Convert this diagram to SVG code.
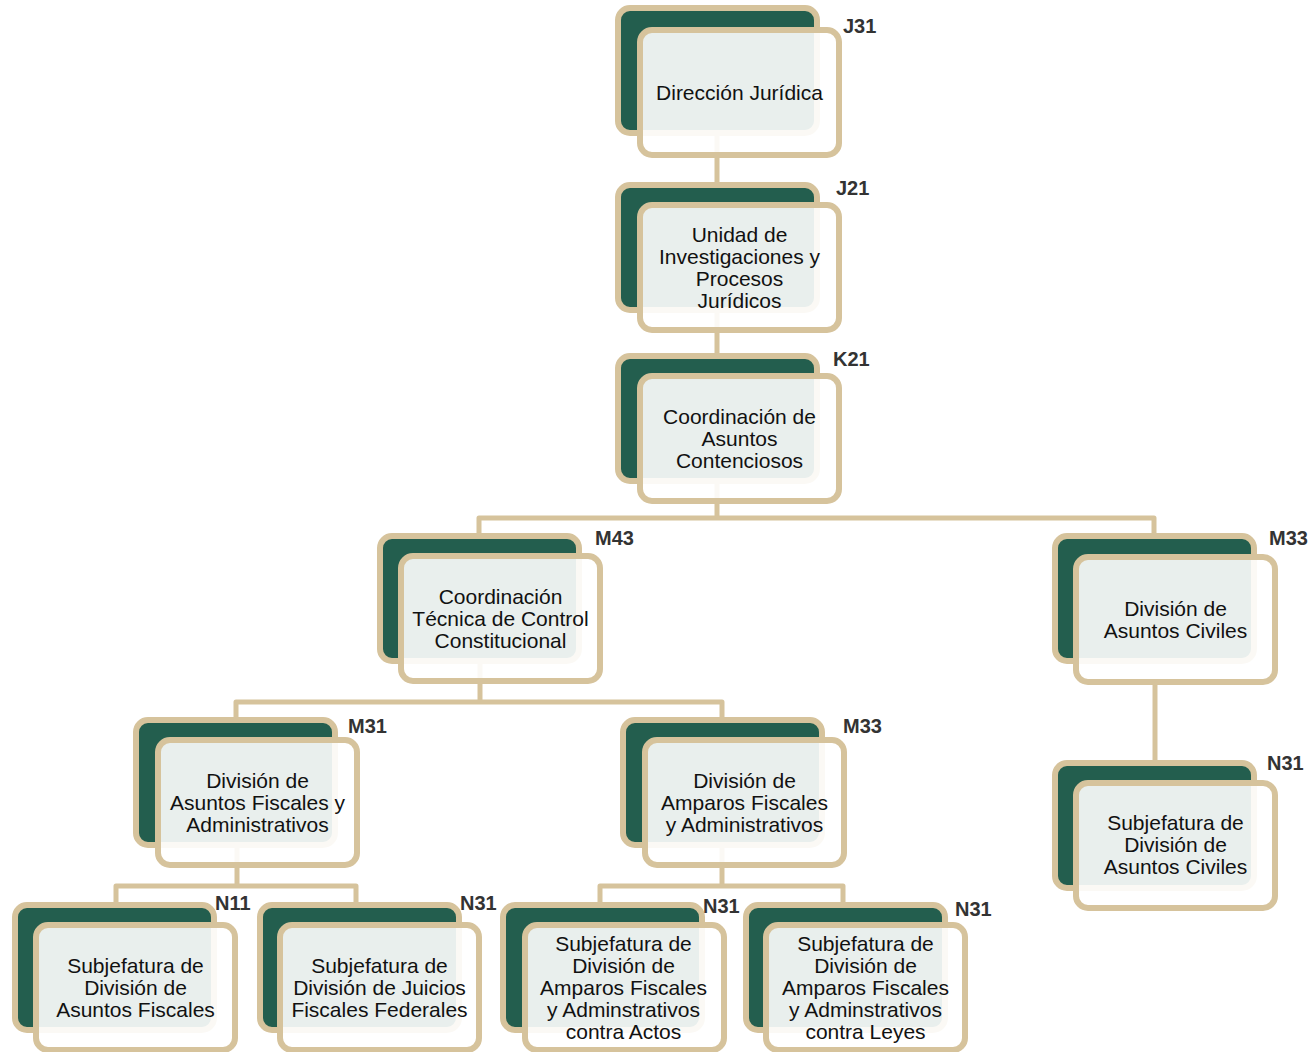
<svg xmlns="http://www.w3.org/2000/svg" width="1315" height="1052" viewBox="0 0 1315 1052">
  <style>
    .back { fill: #235E4E; stroke: #D6C39C; stroke-width: 6; }
    .front { fill: #FFFFFF; fill-opacity: 0.9; stroke: #D6C39C; stroke-width: 6; }
    .conn { fill: none; stroke: #D6C39C; stroke-width: 5; stroke-linejoin: round; }
    .lbl { font-family: "Liberation Sans", Arial, sans-serif; font-size: 21px; fill: #111111; text-anchor: middle; }
    .code { font-family: "Liberation Sans", Arial, sans-serif; font-size: 20px; font-weight: bold; fill: #333333; }
  </style>
  <rect width="1315" height="1052" fill="#FFFFFF"/>
  <g id="connectors">
    <path class="conn" d="M717,130 V518"/>
    <path class="conn" d="M479,540 V518 H1154 V540"/>
    <path class="conn" d="M480,660 V702"/>
    <path class="conn" d="M236,724 V702 H722 V724"/>
    <path class="conn" d="M237,843 V886"/>
    <path class="conn" d="M116,908 V886 H356 V908"/>
    <path class="conn" d="M722,843 V886"/>
    <path class="conn" d="M600,908 V886 H843 V908"/>
    <path class="conn" d="M1155,680 V766"/>
  </g>
  <g id="J31">
    <rect class="back" x="618" y="8" width="199" height="125" rx="12"/>
    <rect class="front" x="640" y="30" width="199" height="125" rx="12"/>
    <text class="lbl" x="739.5" y="100">Dirección Jurídica</text>
    <text class="code" x="843" y="33">J31</text>
  </g>
  <g id="J21">
    <rect class="back" x="618" y="185" width="199" height="125" rx="12"/>
    <rect class="front" x="640" y="205" width="199" height="125" rx="12"/>
    <text class="lbl" x="739.5" y="242">Unidad de</text>
    <text class="lbl" x="739.5" y="264">Investigaciones y</text>
    <text class="lbl" x="739.5" y="286">Procesos</text>
    <text class="lbl" x="739.5" y="308">Jurídicos</text>
    <text class="code" x="836" y="195">J21</text>
  </g>
  <g id="K21">
    <rect class="back" x="618" y="356" width="199" height="125" rx="12"/>
    <rect class="front" x="640" y="376" width="199" height="125" rx="12"/>
    <text class="lbl" x="739.5" y="424">Coordinación de</text>
    <text class="lbl" x="739.5" y="446">Asuntos</text>
    <text class="lbl" x="739.5" y="468">Contenciosos</text>
    <text class="code" x="833" y="366">K21</text>
  </g>
  <g id="M43">
    <rect class="back" x="380" y="536" width="199" height="125" rx="12"/>
    <rect class="front" x="401" y="556" width="199" height="125" rx="12"/>
    <text class="lbl" x="500.5" y="604">Coordinación</text>
    <text class="lbl" x="500.5" y="626">Técnica de Control</text>
    <text class="lbl" x="500.5" y="648">Constitucional</text>
    <text class="code" x="595" y="545">M43</text>
  </g>
  <g id="M33-civiles">
    <rect class="back" x="1055" y="536" width="199" height="125" rx="12"/>
    <rect class="front" x="1076" y="557" width="199" height="125" rx="12"/>
    <text class="lbl" x="1175.5" y="616">División de</text>
    <text class="lbl" x="1175.5" y="638">Asuntos Civiles</text>
    <text class="code" x="1269" y="545">M33</text>
  </g>
  <g id="M31">
    <rect class="back" x="136" y="720" width="199" height="125" rx="12"/>
    <rect class="front" x="158" y="740" width="199" height="125" rx="12"/>
    <text class="lbl" x="257.5" y="788">División de</text>
    <text class="lbl" x="257.5" y="810">Asuntos Fiscales y</text>
    <text class="lbl" x="257.5" y="832">Administrativos</text>
    <text class="code" x="348" y="733">M31</text>
  </g>
  <g id="M33-amparos">
    <rect class="back" x="623" y="720" width="199" height="125" rx="12"/>
    <rect class="front" x="645" y="740" width="199" height="125" rx="12"/>
    <text class="lbl" x="744.5" y="788">División de</text>
    <text class="lbl" x="744.5" y="810">Amparos Fiscales</text>
    <text class="lbl" x="744.5" y="832">y Administrativos</text>
    <text class="code" x="843" y="733">M33</text>
  </g>
  <g id="N31-civiles">
    <rect class="back" x="1055" y="763" width="199" height="125" rx="12"/>
    <rect class="front" x="1076" y="783" width="199" height="125" rx="12"/>
    <text class="lbl" x="1175.5" y="830">Subjefatura de</text>
    <text class="lbl" x="1175.5" y="852">División de</text>
    <text class="lbl" x="1175.5" y="874">Asuntos Civiles</text>
    <text class="code" x="1267" y="770">N31</text>
  </g>
  <g id="N11">
    <rect class="back" x="15" y="905" width="199" height="125" rx="12"/>
    <rect class="front" x="36" y="925" width="199" height="125" rx="12"/>
    <text class="lbl" x="135.5" y="973">Subjefatura de</text>
    <text class="lbl" x="135.5" y="995">División de</text>
    <text class="lbl" x="135.5" y="1017">Asuntos Fiscales</text>
    <text class="code" x="215" y="910">N11</text>
  </g>
  <g id="N31-juicios">
    <rect class="back" x="260" y="905" width="199" height="125" rx="12"/>
    <rect class="front" x="280" y="925" width="199" height="125" rx="12"/>
    <text class="lbl" x="379.5" y="973">Subjefatura de</text>
    <text class="lbl" x="379.5" y="995">División de Juicios</text>
    <text class="lbl" x="379.5" y="1017">Fiscales Federales</text>
    <text class="code" x="460" y="910">N31</text>
  </g>
  <g id="N31-actos">
    <rect class="back" x="503" y="905" width="199" height="125" rx="12"/>
    <rect class="front" x="525" y="925" width="199" height="125" rx="12"/>
    <text class="lbl" x="623.5" y="951">Subjefatura de</text>
    <text class="lbl" x="623.5" y="973">División de</text>
    <text class="lbl" x="623.5" y="995">Amparos Fiscales</text>
    <text class="lbl" x="623.5" y="1017">y Adminstrativos</text>
    <text class="lbl" x="623.5" y="1039">contra Actos</text>
    <text class="code" x="703" y="913">N31</text>
  </g>
  <g id="N31-leyes">
    <rect class="back" x="746" y="905" width="199" height="125" rx="12"/>
    <rect class="front" x="766" y="925" width="199" height="125" rx="12"/>
    <text class="lbl" x="865.5" y="951">Subjefatura de</text>
    <text class="lbl" x="865.5" y="973">División de</text>
    <text class="lbl" x="865.5" y="995">Amparos Fiscales</text>
    <text class="lbl" x="865.5" y="1017">y Adminstrativos</text>
    <text class="lbl" x="865.5" y="1039">contra Leyes</text>
    <text class="code" x="955" y="916">N31</text>
  </g>
</svg>
